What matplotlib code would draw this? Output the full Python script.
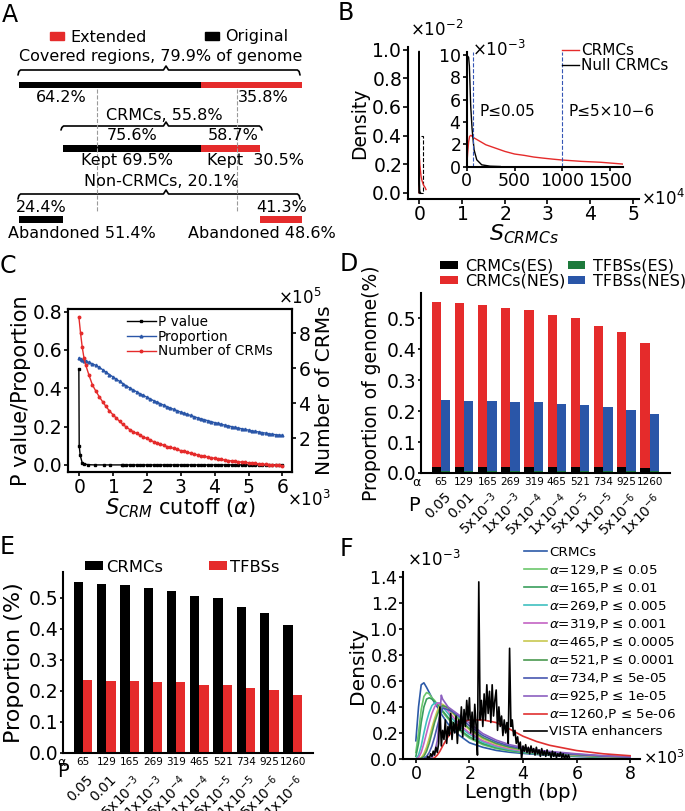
import numpy as np
import matplotlib
matplotlib.use('Agg')
import matplotlib.pyplot as plt
from matplotlib.patches import Patch, Rectangle
from matplotlib.lines import Line2D

plt.rcParams['font.family'] = ['DejaVu Sans']
plt.rcParams['axes.linewidth'] = 1.5

# ---------------- data ----------------
# Panel A
orig_pct, ext_pct = 64.2, 35.8
cov_total = 79.9
crmc_total = 55.8
crmc_orig_frac, crmc_ext_frac = 75.6, 58.7
kept_orig, kept_ext = 69.5, 30.5
non_total = 20.1
non_orig_frac, non_ext_frac = 24.4, 41.3
aband_orig, aband_ext = 51.4, 48.6

# Panel B (density x1e-3)
b_null_x = [0, 3, 10, 20, 28, 42, 56, 77, 105, 157, 244, 350]
b_null = [0, 9.9, 9.9, 9.8, 9.0, 5.4, 3.4, 1.5, 0.6, 0.15, 0.03, 0.0]
b_crmc_x = [0, 10, 20, 30, 45, 70, 100, 150, 200, 300, 400, 500, 600, 700, 800,
            900, 1000, 1200, 1400, 1630]
b_crmc = [0, 1.2, 2.2, 2.7, 2.8, 2.6, 2.45, 2.2, 1.95, 1.65, 1.35, 1.12, 1.0, 0.85,
          0.75, 0.66, 0.58, 0.46, 0.38, 0.22]
b_cut_lines = [65, 1000]

# Panel C
c_alpha = [0, 50, 100, 150] + list(range(200, 6001, 100))
c_num = [8.95, 8.0, 7.2, 6.6, 6.2, 5.6, 5.05, 4.7, 4.38, 4.09, 3.82, 3.57, 3.36, 3.16, 2.97,
         2.79, 2.64, 2.5, 2.38, 2.28, 2.18, 2.08, 1.99, 1.9, 1.81,
         1.74, 1.67, 1.6, 1.53, 1.48, 1.42, 1.36, 1.3, 1.25, 1.2,
         1.15, 1.1, 1.05, 1.0, 0.97, 0.93, 0.89, 0.86, 0.82, 0.79,
         0.76, 0.73, 0.71, 0.68, 0.66, 0.64, 0.62, 0.6, 0.58, 0.56,
         0.54, 0.53, 0.51, 0.5, 0.48, 0.46, 0.45, 0.43]  # x1e5
c_prop = [0.557, 0.553, 0.549, 0.545, 0.541, 0.535, 0.528, 0.52, 0.51, 0.497, 0.484, 0.472, 0.46, 0.448, 0.436,
          0.424, 0.413, 0.402, 0.392, 0.382, 0.372, 0.363, 0.354, 0.345, 0.336,
          0.328, 0.32, 0.312, 0.304, 0.297, 0.29, 0.283, 0.276, 0.27, 0.264,
          0.258, 0.252, 0.246, 0.241, 0.236, 0.231, 0.226, 0.221, 0.217, 0.212,
          0.208, 0.204, 0.2, 0.196, 0.192, 0.189, 0.185, 0.182, 0.178, 0.175,
          0.172, 0.169, 0.166, 0.163, 0.16, 0.158, 0.156, 0.154]
c_alpha_p = [0, 10, 40, 100, 165, 269, 465, 734, 925, 1260] + list(range(1300, 6001, 100))
c_pval = [0.5, 0.1, 0.05, 0.01, 0.005, 0.001, 0.0001, 0.00001, 0.000005, 0.000001] + [0.0] * 48

# Panels D / E
alpha_labels = ['65', '129', '165', '269', '319', '465', '521', '734', '925', '1260']
p_labels = ['0.05', '0.01', r'5x10$^{-3}$', r'1x10$^{-3}$', r'5x10$^{-4}$', r'1x10$^{-4}$',
            r'5x10$^{-5}$', r'1x10$^{-5}$', r'5x10$^{-6}$', r'1x10$^{-6}$']
d_crmc_nes = [0.554, 0.549, 0.544, 0.532, 0.526, 0.510, 0.502, 0.476, 0.455, 0.419]
d_tfbs_nes = [0.235, 0.234, 0.233, 0.230, 0.228, 0.222, 0.219, 0.213, 0.203, 0.190]
d_crmc_es = [0.020, 0.020, 0.020, 0.019, 0.019, 0.019, 0.019, 0.018, 0.018, 0.017]
d_tfbs_es = [0.006, 0.006, 0.006, 0.006, 0.006, 0.005, 0.005, 0.005, 0.005, 0.005]
e_crmc = [0.550, 0.545, 0.540, 0.529, 0.522, 0.504, 0.497, 0.471, 0.450, 0.413]
e_tfbs = [0.234, 0.232, 0.231, 0.228, 0.227, 0.220, 0.218, 0.210, 0.201, 0.187]

# Panel F (density x1e-3)
f_len = [0, 100, 200, 300, 400, 500, 600, 700, 800, 900, 950, 1000, 1200, 1400, 1600, 1800,
         2000, 2500, 3000, 3500, 4000, 4500, 5000, 6000, 7000, 8000]
f_labels = ['CRMCs', r'$\alpha$=129,P ≤ 0.05', r'$\alpha$=165,P ≤ 0.01',
            r'$\alpha$=269,P ≤ 0.005', r'$\alpha$=319,P ≤ 0.001',
            r'$\alpha$=465,P ≤ 0.0005', r'$\alpha$=521,P ≤ 0.0001',
            r'$\alpha$=734,P ≤ 5e-05', r'$\alpha$=925,P ≤ 1e-05',
            r'$\alpha$=1260,P ≤ 5e-06']
f_crmc = [0.14, 0.40, 0.57, 0.585, 0.55, 0.51, 0.47, 0.43, 0.40, 0.36, 0.345, 0.33, 0.27, 0.225, 0.185, 0.155,
          0.125, 0.09, 0.066, 0.052, 0.043, 0.035, 0.028, 0.019, 0.012, 0.007]
f_a129 = [0.05, 0.2, 0.38, 0.48, 0.51, 0.50, 0.47, 0.45, 0.42, 0.39, 0.375, 0.36, 0.31, 0.265, 0.225, 0.19,
          0.16, 0.11, 0.08, 0.062, 0.05, 0.04, 0.033, 0.022, 0.014, 0.009]
f_a165 = [0.02, 0.12, 0.28, 0.40, 0.46, 0.47, 0.46, 0.44, 0.42, 0.40, 0.385, 0.37, 0.32, 0.275, 0.235, 0.2,
          0.17, 0.118, 0.087, 0.067, 0.054, 0.044, 0.036, 0.024, 0.016, 0.01]
f_a269 = [0.0, 0.03, 0.1, 0.2, 0.29, 0.36, 0.41, 0.43, 0.43, 0.42, 0.41, 0.40, 0.35, 0.3, 0.255, 0.22,
          0.19, 0.13, 0.095, 0.073, 0.058, 0.047, 0.039, 0.026, 0.017, 0.011]
f_a319 = [0.0, 0.01, 0.05, 0.12, 0.2, 0.28, 0.35, 0.40, 0.43, 0.43, 0.42, 0.41, 0.37, 0.32, 0.275, 0.235,
          0.2, 0.14, 0.102, 0.078, 0.062, 0.05, 0.041, 0.028, 0.018, 0.012]
f_a465 = [0.0, 0.0, 0.01, 0.04, 0.09, 0.16, 0.24, 0.31, 0.37, 0.41, 0.42, 0.42, 0.39, 0.345, 0.3, 0.26,
          0.225, 0.155, 0.113, 0.086, 0.068, 0.055, 0.045, 0.031, 0.02, 0.013]
f_a521 = [0.0, 0.0, 0.005, 0.02, 0.06, 0.12, 0.2, 0.28, 0.34, 0.39, 0.40, 0.41, 0.395, 0.355, 0.31, 0.27,
          0.235, 0.165, 0.12, 0.091, 0.072, 0.058, 0.048, 0.033, 0.021, 0.014]
f_a734 = [0.0, 0.0, 0.0, 0.005, 0.02, 0.05, 0.1, 0.17, 0.25, 0.33, 0.36, 0.39, 0.38, 0.36, 0.33, 0.29,
          0.255, 0.18, 0.132, 0.1, 0.08, 0.064, 0.053, 0.036, 0.023, 0.015]
f_a925 = [0.0, 0.0, 0.0, 0.0, 0.0, 0.0, 0.01, 0.05, 0.14, 0.35, 0.49, 0.46, 0.40, 0.37, 0.34, 0.31,
          0.275, 0.195, 0.145, 0.11, 0.088, 0.07, 0.058, 0.04, 0.025, 0.017]
f_a1260 = [0.0, 0.0, 0.0, 0.0, 0.0, 0.0, 0.0, 0.01, 0.03, 0.06, 0.08, 0.1, 0.17, 0.23, 0.27, 0.29,
           0.3, 0.3, 0.28, 0.23, 0.175, 0.135, 0.105, 0.065, 0.04, 0.025]
f_vista_len = list(range(400, 5801, 50))
f_vista = [0.0, 0.02, 0.0, 0.04, 0.02, 0.06, 0.03, 0.09, 0.05, 0.12,
           0.40, 0.10, 0.22, 0.15, 0.30, 0.12, 0.25, 0.18, 0.35, 0.15,
           0.28, 0.20, 0.33, 0.12, 0.30, 0.22, 0.40, 0.17, 0.38, 0.25,
           0.45, 0.30, 0.47, 0.20, 0.36, 0.15, 0.42, 0.25, 0.03, 1.36,
           0.30, 0.45, 0.25, 0.50, 0.30, 0.57, 0.35, 0.52, 0.28, 0.57,
           0.33, 0.45, 0.53, 0.22, 0.40, 0.25, 0.33, 0.18, 0.30, 0.20,
           0.28, 0.12, 0.85, 0.25, 0.30, 0.18, 0.22, 0.12, 0.17, 0.08,
           0.13, 0.0, 0.10, 0.06, 0.11, 0.05, 0.09, 0.04, 0.10, 0.05,
           0.08, 0.03, 0.09, 0.04, 0.07, 0.02, 0.08, 0.03, 0.06, 0.02,
           0.07, 0.03, 0.05, 0.01, 0.06, 0.02, 0.05, 0.01, 0.04, 0.02,
           0.05, 0.01, 0.04, 0.0, 0.03, 0.01, 0.03, 0.0, 0.0]

# ---------------- style ----------------
RED = '#e52b2b'
BLUE = '#2a56a8'
GREEN = '#1d7a3c'
f_colors = ['#2c5aa8', '#6cc76c', '#3a9e5c', '#40c0c0', '#c464c4', '#c8c850',
            '#4a9a50', '#4858b0', '#8c60c0', '#e03030']

W, H = 685, 811
fig = plt.figure(figsize=(W / 100, H / 100), dpi=100)


def ax_px(l, t, r, b, **kw):
    return fig.add_axes([l / W, 1 - b / H, (r - l) / W, (b - t) / H], **kw)


def ftext(x, y, s, **kw):
    return fig.text(x / W, 1 - y / H, s, **kw)


def hide_offsets(ax):
    ax.xaxis.get_offset_text().set_visible(False)
    ax.yaxis.get_offset_text().set_visible(False)


# ---------------- Panel A ----------------
axA = ax_px(0, 0, 340, 250)
SC = 2.83
axA.set_xlim(-19 / SC, (340 - 19) / SC)
axA.set_ylim(250, 0)
axA.axis('off')


def X(px):
    return (px - 19) / SC


fsA = 11.5
axA.barh(85, orig_pct, left=0, height=6, color='black')
axA.barh(85, ext_pct, left=orig_pct, height=6, color=RED)
w2o = orig_pct * crmc_orig_frac / 100
w2e = ext_pct * crmc_ext_frac / 100
axA.barh(148, w2o, left=orig_pct - w2o, height=7, color='black')
axA.barh(148, w2e, left=orig_pct, height=7, color=RED)
w3o = orig_pct * non_orig_frac / 100
w3e = ext_pct * non_ext_frac / 100
axA.barh(219, w3o, left=0, height=7, color='black')
axA.barh(219, w3e, left=100 - w3e, height=7, color=RED)


def brace(x0, x1, xm, y, h=5, p=4):
    d = 0.9
    xs = [x0, x0 + d * 0.35, x0 + d, xm - d, xm, xm + d, x1 - d, x1 - d * 0.35, x1]
    ys = [y + h, y + 1.5, y, y, y - p, y, y, y + 1.5, y + h]
    axA.plot(xs, ys, color='black', lw=1.2, solid_capstyle='round', solid_joinstyle='round')


brace(X(18), X(300), X(166), 70)
brace(X(61), X(262), X(166), 126, h=4)
brace(X(18), X(300), X(166), 194)
for px in (97, 237):
    axA.plot([X(px), X(px)], [89, 212], ls='--', color='#9a9a9a', lw=0.8)

axA.text(X(161), 57, f'Covered regions, {cov_total}% of genome', ha='center', va='center', fontsize=fsA)
axA.text(X(61), 97, f'{orig_pct}%', ha='center', va='center', fontsize=fsA)
axA.text(X(263), 97, f'{ext_pct}%', ha='center', va='center', fontsize=fsA)
axA.text(X(164), 115, f'CRMCs, {crmc_total}%', ha='center', va='center', fontsize=fsA)
axA.text(X(132), 136, f'{crmc_orig_frac}%', ha='center', va='center', fontsize=fsA)
axA.text(X(233), 136, f'{crmc_ext_frac}%', ha='center', va='center', fontsize=fsA)
axA.text(X(127), 161, f'Kept {kept_orig}%', ha='center', va='center', fontsize=fsA)
axA.text(X(256), 161, f'Kept  {kept_ext}%', ha='center', va='center', fontsize=fsA)
axA.text(X(161), 181, f'Non-CRMCs, {non_total}%', ha='center', va='center', fontsize=fsA)
axA.text(X(41), 207, f'{non_orig_frac}%', ha='center', va='center', fontsize=fsA)
axA.text(X(282), 207, f'{non_ext_frac}%', ha='center', va='center', fontsize=fsA)
axA.text(X(82), 233, f'Abandoned {aband_orig}%', ha='center', va='center', fontsize=fsA)
axA.text(X(262), 233, f'Abandoned {aband_ext}%', ha='center', va='center', fontsize=fsA)
fig.legend(handles=[Patch(color=RED, label='Extended'), Patch(color='black', label='Original')],
           loc='center left', bbox_to_anchor=(50 / W, 1 - 37 / H), ncol=2, frameon=False,
           fontsize=fsA, handlelength=0.9, handleheight=0.4, handletextpad=0.4,
           columnspacing=3.6, borderpad=0, borderaxespad=0)

# ---------------- Panel B ----------------
axB = ax_px(408, 47, 639, 199)
axB.plot(b_crmc_x, np.array(b_crmc) * 1e-3, color=RED, lw=1)
axB.plot(b_null_x, np.array(b_null) * 1e-3, color='black', lw=1)
axB.add_patch(Rectangle((0, 0), 900, 0.004, fill=False, ls='--', lw=0.8, ec='black'))
axB.set_xlim(-2570, 51400)
axB.set_ylim(-0.00044, 0.0102)
axB.set_xticks(np.arange(0, 50001, 10000))
axB.set_yticks(np.arange(0, 0.0101, 0.002))
axB.ticklabel_format(axis='x', style='sci', scilimits=(4, 4), useMathText=True)
axB.ticklabel_format(axis='y', style='sci', scilimits=(-2, -2), useMathText=True)
hide_offsets(axB)
for s in ('top', 'right'):
    axB.spines[s].set_visible(False)
axB.tick_params(labelsize=13.5, length=3.5, width=1.2, pad=1)
axB.set_ylabel('Density', fontsize=13.5, labelpad=1)
axB.set_xlabel(r'$S_{CRMCs}$', fontsize=16, labelpad=-1)
ftext(410, 30, r'$\times\mathdefault{10^{-2}}$', fontsize=12, ha='left', va='center')
ftext(641, 199, r'$\times\mathdefault{10^{4}}$', fontsize=12, ha='left', va='center')

axI = ax_px(466.7, 51.7, 622.7, 166.5)
axI.patch.set_alpha(0)
axI.plot(b_crmc_x, np.array(b_crmc) * 1e-3, color=RED, lw=1, label='CRMCs')
axI.plot(b_null_x, np.array(b_null) * 1e-3, color='black', lw=1, label='Null CRMCs')
for xv in b_cut_lines:
    axI.axvline(xv, color='#3555b5', ls='--', lw=0.8)
axI.set_xlim(0, 1630)
axI.set_ylim(0, 0.0103)
axI.set_xticks([0, 500, 1000, 1500])
axI.set_yticks(np.arange(0, 0.0101, 0.002))
axI.ticklabel_format(axis='y', style='sci', scilimits=(-3, -3), useMathText=True)
hide_offsets(axI)
for s in ('top', 'right'):
    axI.spines[s].set_visible(False)
axI.tick_params(labelsize=12.5, length=3, width=1.2, pad=1)
axI.text(129, 0.0049, 'P≤0.05', fontsize=11, ha='left', va='center')
axI.text(1064, 0.0049, 'P≤5×10−6', fontsize=11, ha='left', va='center')
ftext(472, 50, r'$\times\mathdefault{10^{-3}}$', fontsize=12, ha='left', va='center')
axI.legend(loc='upper left', bbox_to_anchor=(562 / W, 1 - 43 / H), bbox_transform=fig.transFigure,
           frameon=False, fontsize=11, handlelength=1.1, handletextpad=0.15, labelspacing=0.0,
           borderpad=0, borderaxespad=0)

# ---------------- Panel C ----------------
axC = ax_px(68, 309, 292, 472)
l1, = axC.plot(c_alpha_p, c_pval, '-s', color='black', ms=2.0, lw=1.0, label='P value')
l2, = axC.plot(c_alpha, c_prop, '-^', color=BLUE, ms=2.0, lw=1.0, label='Proportion')
axC2 = axC.twinx()
l3, = axC2.plot(c_alpha, np.array(c_num) * 1e5, '-o', color=RED, ms=1.8, lw=1.0, label='Number of CRMs')
axC.set_xlim(-320, 6280)
axC.set_ylim(-0.037, 0.814)
axC.set_xticks(np.arange(0, 6001, 1000))
axC.set_yticks([0, 0.2, 0.4, 0.6, 0.8])
axC.ticklabel_format(axis='x', style='sci', scilimits=(3, 3), useMathText=True)
axC2.set_ylim(7400, 939000)
axC2.set_yticks([2e5, 4e5, 6e5, 8e5])
axC2.ticklabel_format(axis='y', style='sci', scilimits=(5, 5), useMathText=True)
hide_offsets(axC)
hide_offsets(axC2)
axC.tick_params(labelsize=13.5, length=3, width=1.2, pad=1)
axC2.tick_params(labelsize=13.5, length=3, width=1.2, pad=1)
axC.set_ylabel('P value/Proportion', fontsize=15, labelpad=1)
axC2.set_ylabel('Number of CRMs', fontsize=14.5, labelpad=3)
axC.set_xlabel(r'$S_{CRM}$ cutoff ($\alpha$)', fontsize=15, labelpad=0)
ftext(278, 298, r'$\times\mathdefault{10^{5}}$', fontsize=12, ha='left', va='center')
ftext(287, 500, r'$\times\mathdefault{10^{3}}$', fontsize=12, ha='left', va='center')
axC2.legend(handles=[l1, l2, l3], loc='upper left', bbox_to_anchor=(127 / W, 1 - 315 / H),
            bbox_transform=fig.transFigure, frameon=False, fontsize=9.8, handlelength=2.1,
            handletextpad=0.15, labelspacing=0.05, borderpad=0, borderaxespad=0)


# ---------------- Panels D / E helpers ----------------
def bar_axis(ax, ylab, ylab_fs, ylab_pad, p_dy, a_xy, p_xy):
    x = np.arange(len(alpha_labels))
    ax.set_xlim(-0.86, 9.88)
    ax.set_ylim(0, 0.582)
    for s in ('top', 'right'):
        ax.spines[s].set_visible(False)
    ax.set_yticks([0, 0.1, 0.2, 0.3, 0.4, 0.5])
    ax.set_xticks(x)
    ax.set_xticklabels(alpha_labels, fontsize=7.5)
    ax.tick_params(axis='x', length=0, pad=3)
    ax.tick_params(axis='y', labelsize=13.5, length=2.5, width=1.2, pad=1)
    ax.set_ylabel(ylab, fontsize=ylab_fs, labelpad=ylab_pad)
    for i, s in enumerate(p_labels):
        ax.annotate(s, xy=(i, 0), xycoords=('data', 'axes fraction'), xytext=(2, -p_dy),
                    textcoords='offset points', rotation=45, ha='right', va='top',
                    rotation_mode='anchor', fontsize=10)
    ax.text(a_xy[0], a_xy[1], r'$\mathregular{\alpha}$', transform=ax.transAxes, fontsize=9,
            ha='center', va='center')
    ax.text(p_xy[0], p_xy[1], 'P', transform=ax.transAxes, fontsize=14, ha='center', va='center')
    return x


# ---------------- Panel D ----------------
axD = ax_px(421, 293, 670, 473)
xD = np.arange(len(alpha_labels))
bD1 = axD.bar(xD - 0.2, d_crmc_nes, 0.4, color=RED, label='CRMCs(NES)')
bD2 = axD.bar(xD + 0.2, d_tfbs_nes, 0.4, color=BLUE, label='TFBSs(NES)')
bD3 = axD.bar(xD - 0.2, d_crmc_es, 0.4, color='black', label='CRMCs(ES)')
bD4 = axD.bar(xD + 0.2, d_tfbs_es, 0.4, color=GREEN, label='TFBSs(ES)')
bar_axis(axD, 'Proportion of genome(%)', 13.5, 4, 12, (-0.017, -0.055), (-0.03, -0.18))
fig.legend(handles=[bD3, bD1, bD4, bD2], loc='center left', bbox_to_anchor=(440 / W, 1 - 273.5 / H),
           ncol=2, frameon=False, fontsize=11.5, handlelength=1.1, handleheight=0.45,
           handletextpad=0.5, columnspacing=0.1, labelspacing=0.0, borderpad=0, borderaxespad=0)

# ---------------- Panel E ----------------
axE = ax_px(63, 572, 313, 753)
xE = np.arange(len(alpha_labels))
bE1 = axE.bar(xE - 0.2, e_crmc, 0.4, color='black', label='CRMCs')
bE2 = axE.bar(xE + 0.2, e_tfbs, 0.4, color=RED, label='TFBSs')
bar_axis(axE, 'Proportion (%)', 16, 3, 14, (-0.005, -0.05), (0.0, -0.1))
fig.legend(handles=[bE1, bE2], loc='center left', bbox_to_anchor=(85 / W, 1 - 567 / H),
           ncol=2, frameon=False, fontsize=11.8, handlelength=1.1, handleheight=0.45,
           handletextpad=0.2, columnspacing=2.8, borderpad=0, borderaxespad=0)

# ---------------- Panel F ----------------
axF = ax_px(403, 572, 640, 759)
f_series = [f_crmc, f_a129, f_a165, f_a269, f_a319, f_a465, f_a521, f_a734, f_a925, f_a1260]
for vals, col, lab in zip(f_series, f_colors, f_labels):
    axF.plot(f_len, np.array(vals) * 1e-3, color=col, lw=1.2, label=lab)
axF.plot(f_vista_len, np.array(f_vista) * 1e-3, color='black', lw=1.2, label='VISTA enhancers')
axF.set_xlim(-480, 8370)
axF.set_ylim(0, 0.001436)
axF.set_xticks(np.arange(0, 8001, 2000))
axF.set_yticks(np.arange(0, 0.00141, 0.0002))
axF.ticklabel_format(axis='x', style='sci', scilimits=(3, 3), useMathText=True)
axF.ticklabel_format(axis='y', style='sci', scilimits=(-3, -3), useMathText=True)
hide_offsets(axF)
for s in ('top', 'right'):
    axF.spines[s].set_visible(False)
axF.tick_params(labelsize=12.5, length=3, width=1.2, pad=1)
axF.set_ylabel('Density', fontsize=14.5, labelpad=1)
axF.set_xlabel('Length (bp)', fontsize=14, labelpad=0)
ftext(407, 560, r'$\times\mathdefault{10^{-3}}$', fontsize=12, ha='left', va='center')
ftext(643, 758, r'$\times\mathdefault{10^{3}}$', fontsize=11.5, ha='left', va='center')
axF.legend(loc='upper left', bbox_to_anchor=(524 / W, 1 - 546 / H), bbox_transform=fig.transFigure,
           frameon=False, fontsize=9.7, handlelength=1.7, handletextpad=0.15, labelspacing=0.3,
           borderpad=0, borderaxespad=0)

# ---------------- panel letters ----------------
for lab, (px, py) in {'A': (2, 3), 'B': (338, 1), 'C': (0, 254), 'D': (340, 252),
                      'E': (0, 535), 'F': (340, 537)}.items():
    ftext(px, py, lab, fontsize=17, ha='left', va='top')

fig.savefig('out.png', dpi=100)
